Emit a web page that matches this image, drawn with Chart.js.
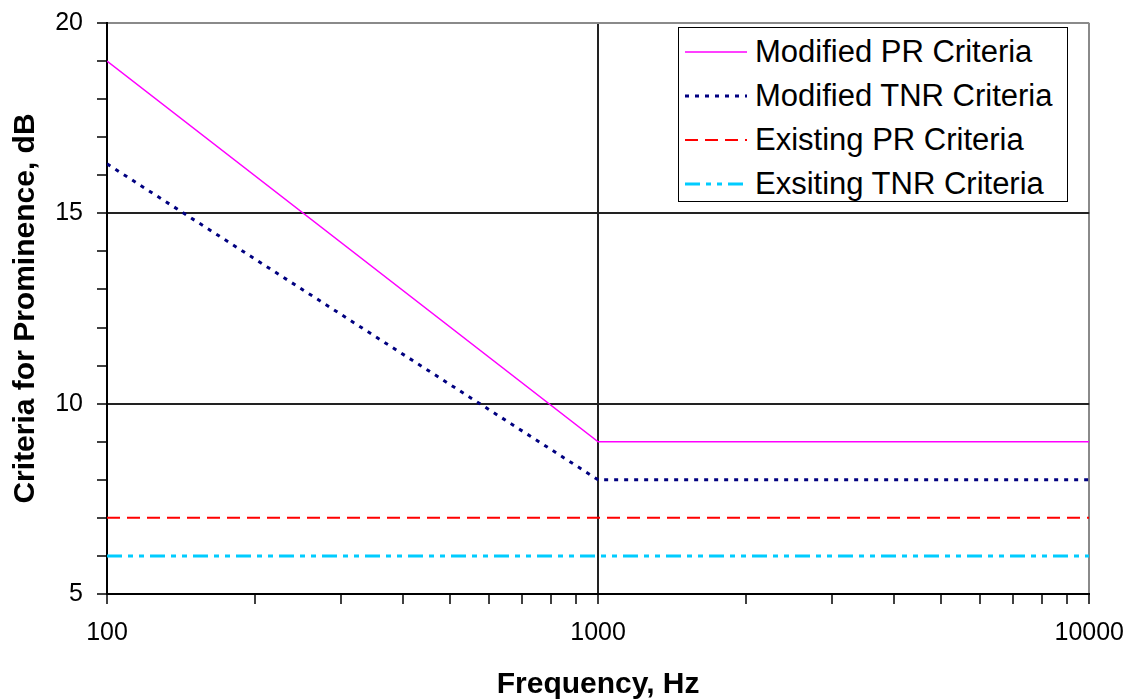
<!DOCTYPE html>
<html>
<head>
<meta charset="utf-8">
<script src="https://cdn.jsdelivr.net/npm/chart.js@4/dist/chart.umd.min.js"></script>
<style>
  body { margin: 0; background: #fff; }
  #wrap { position: relative; width: 1138px; height: 700px; }
  #legend {
    position: absolute; left: 678px; top: 27px; width: 390px; height: 175px;
    border: 1.5px solid #000; background: #fff; padding-top: 2px; box-sizing: border-box;
    font-family: "Liberation Sans", Arial, sans-serif; font-size: 31px; color: #000;
  }
  .row { height: 44px; display: flex; align-items: center; }
  .row svg { margin-left: 6px; margin-right: 8px; }
</style>
</head>
<body>
<div id="wrap">
  <canvas id="chart" width="1138" height="700"></canvas>
  <div id="legend"></div>
</div>
<script>
// данные
const seriesNames = ['Modified PR Criteria', 'Modified TNR Criteria', 'Existing PR Criteria', 'Exsiting TNR Criteria'];
const freq = [100, 1000, 10000];
const modifiedPR = [19, 9, 9];
const modifiedTNR = [16.3, 8, 8];
const existingPR = [7, 7, 7];
const existingTNR = [6, 6, 6];

// деления осей
const xTickValues = [100, 200, 300, 400, 500, 600, 700, 800, 900,
                     1000, 2000, 3000, 4000, 5000, 6000, 7000, 8000, 9000, 10000];
const xLabels = [100, 1000, 10000];
const yTickValues = [5, 6, 7, 8, 9, 10, 11, 12, 13, 14, 15, 16, 17, 18, 19, 20];
const yLabels = [5, 10, 15, 20];

const font = '"Liberation Sans", Arial, sans-serif';

function toPoints(values){
    return values.map((v, i) => ({x: freq[i], y: v}));
}

const styles = [
    {color: '#FF00FF', width: 1.5, dash: []},
    {color: '#000080', width: 3, dash: [4, 6]},
    {color: '#FF0000', width: 2, dash: [13, 7]},
    {color: '#00CCFF', width: 3, dash: [15, 6, 5, 6, 5, 6]}
];
const allValues = [modifiedPR, modifiedTNR, existingPR, existingTNR];

const datasets = allValues.map((vals, i) => ({
    label: seriesNames[i],
    data: toPoints(vals),
    borderColor: styles[i].color,
    borderWidth: styles[i].width,
    borderDash: styles[i].dash,
    pointRadius: 0,
    tension: 0,
    fill: false
}));

const myChart = new Chart(document.getElementById('chart'), {
    type: 'line',
    data: { datasets: datasets },
    options: {
        responsive: false,
        animation: false,
        devicePixelRatio: 1,
        layout: { padding: { top: 23, right: 48, left: 0, bottom: 0 } },
        plugins: { legend: { display: false }, tooltip: { enabled: false } },
        scales: {
            x: {
                type: 'logarithmic',
                min: 100,
                max: 10000,
                afterBuildTicks: function(axis){
                    axis.ticks = xTickValues.map(v => ({value: v}));
                },
                afterFit: function(scale){ scale.height = 106; },
                ticks: {
                    autoSkip: false,
                    maxRotation: 0,
                    padding: 14,
                    color: '#000',
                    font: { family: font, size: 25 },
                    callback: (value) => xLabels.includes(value) ? String(value) : ''
                },
                grid: {
                    color: (ctx) => {
                        const v = ctx.tick ? ctx.tick.value : null;
                        if (v === 10000) return '#8a8a8a';
                        if (v === 1000 || v === 100) return '#222';
                        return 'transparent';
                    },
                    lineWidth: 2,
                    tickColor: '#000',
                    tickWidth: 1.5,
                    tickLength: 10
                },
                border: { color: '#000', width: 2 },
                title: {
                    display: true,
                    text: 'Frequency, Hz',
                    color: '#000',
                    padding: 0,
                    font: { family: font, size: 30, weight: 'bold', lineHeight: 1 }
                }
            },
            y: {
                min: 5,
                max: 20,
                afterBuildTicks: function(axis){
                    axis.ticks = yTickValues.map(v => ({value: v}));
                },
                afterFit: function(scale){
                    scale.width = 107;
                    // метка "20" не должна сдвигать область графика
                    scale.paddingTop = 0;
                    scale.paddingBottom = 0;
                },
                ticks: {
                    autoSkip: false,
                    padding: 14,
                    color: '#000',
                    font: { family: font, size: 25 },
                    callback: (value) => yLabels.includes(value) ? String(value) : ''
                },
                grid: {
                    color: (ctx) => {
                        const v = ctx.tick ? ctx.tick.value : null;
                        if (v === 20) return '#8a8a8a';
                        if (yLabels.includes(v)) return '#222';
                        return 'transparent';
                    },
                    lineWidth: 2,
                    tickColor: '#000',
                    tickWidth: 1.5,
                    tickLength: 10
                },
                border: { color: '#000', width: 2 },
                title: {
                    display: true,
                    text: 'Criteria for Prominence, dB',
                    color: '#000',
                    padding: { top: 11, bottom: 0 },
                    font: { family: font, size: 30, weight: 'bold', lineHeight: 1 }
                }
            }
        }
    }
});

// легенда внутри области графика
myChart.data.datasets.forEach(function(ds){
    const dash = ds.borderDash.length ? ds.borderDash.join(' ') : 'none';
    const row = `<div class="row">
        <svg width="62" height="10"><line x1="0" y1="5" x2="62" y2="5" stroke="${ds.borderColor}"
            stroke-width="${ds.borderWidth}" stroke-dasharray="${dash}"/></svg>
        <span>${ds.label}</span>
        </div>`;
    document.getElementById('legend').insertAdjacentHTML('beforeend', row);
});
</script>
</body>
</html>
